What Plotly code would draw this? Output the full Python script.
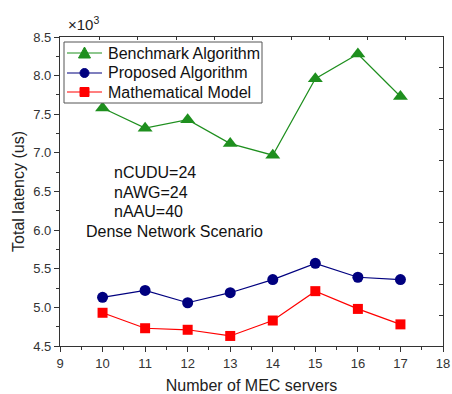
import plotly.graph_objects as go

servers = [10, 11, 12, 13, 14, 15, 16, 17]
benchmark = [7.58, 7.32, 7.43, 7.12, 6.97, 7.96, 8.28, 7.73]
proposed = [5.13, 5.22, 5.06, 5.19, 5.36, 5.57, 5.39, 5.36]
mathmodel = [4.93, 4.73, 4.71, 4.63, 4.83, 5.21, 4.98, 4.78]
x_ticks = [9, 10, 11, 12, 13, 14, 15, 16, 17, 18]
y_ticks = [4.5, 5.0, 5.5, 6.0, 6.5, 7.0, 7.5, 8.0, 8.5]
top_ticks = [9.93, 10.83, 11.73, 12.63, 13.53, 14.43, 15.33, 16.23, 17.13]
right_ticks = [4.9, 5.3, 5.7, 6.1, 6.5, 6.9, 7.3, 7.7, 8.1]
series_names = ["Benchmark Algorithm", "Proposed Algorithm", "Mathematical Model"]

GREEN = "#1e8f1e"
BLUE = "#00007f"
RED = "#ff0000"
FONT = "Liberation Sans, Arial, sans-serif"
AX = "#333333"

fig = go.Figure()
fig.add_trace(go.Scatter(x=servers, y=benchmark, name=series_names[0],
                         mode="lines+markers", line=dict(color=GREEN, width=1.2),
                         marker=dict(symbol="triangle-up", size=13, color=GREEN),
                         showlegend=False))
fig.add_trace(go.Scatter(x=servers, y=proposed, name=series_names[1],
                         mode="lines+markers", line=dict(color=BLUE, width=1.2),
                         marker=dict(symbol="circle", size=11, color=BLUE),
                         showlegend=False))
fig.add_trace(go.Scatter(x=servers, y=mathmodel, name=series_names[2],
                         mode="lines+markers", line=dict(color=RED, width=1.2),
                         marker=dict(symbol="square", size=10, color=RED),
                         showlegend=False))
# invisible trace so the mirrored (top/right) axes get drawn
fig.add_trace(go.Scatter(x=[servers[0]], y=[proposed[0]], xaxis="x2", yaxis="y2",
                         mode="markers", marker=dict(opacity=0), showlegend=False,
                         hoverinfo="skip"))

common = dict(showgrid=False, zeroline=False, showline=True, linecolor=AX,
              linewidth=1.2, tickcolor=AX, tickwidth=1, automargin=False,
              tickfont=dict(family=FONT, size=13, color="#333"))

fig.update_layout(
    width=452, height=394,
    margin=dict(l=60, r=9, t=37, b=48),
    paper_bgcolor="white", plot_bgcolor="white",
    font=dict(family=FONT, color="#222"),
    showlegend=False,
    xaxis=dict(range=[9, 18], tickvals=x_ticks, ticks="outside", ticklen=5,
               minor=dict(dtick=0.5, tick0=9, ticks="outside", ticklen=3, tickcolor=AX),
               title=dict(text="Number of MEC servers",
                          font=dict(family=FONT, size=16, color="#222"), standoff=10),
               **common),
    yaxis=dict(range=[4.5, 8.5], tickvals=y_ticks, ticktext=[f"{v:.1f}" for v in y_ticks],
               ticks="outside", ticklen=5,
               minor=dict(dtick=0.25, tick0=4.5, ticks="outside", ticklen=3, tickcolor=AX),
               title=dict(text="Total latency (us)",
                          font=dict(family=FONT, size=16, color="#222"), standoff=4),
               **common),
    xaxis2=dict(range=[9, 18], overlaying="x", side="top", tickvals=top_ticks,
                ticks="inside", ticklen=3, showticklabels=False, **common),
    yaxis2=dict(range=[4.5, 8.5], overlaying="y", side="right", tickvals=right_ticks,
                ticks="inside", ticklen=4, showticklabels=False, **common),
)

# ---- legend box (drawn by hand to match the compact Origin-style legend) ----
PL, PW, PT, PH = 60, 383, 37, 309  # plot area in px
def px(xp):
    return (xp - PL) / PW
def py(yp):
    return (PT + PH - yp) / PH

fig.add_shape(type="rect", xref="paper", yref="paper", x0=px(64), x1=px(262),
              y0=py(103), y1=py(42), line=dict(color="#555", width=1),
              fillcolor="white", layer="above")
rows = [53, 73, 92]
colors = [GREEN, BLUE, RED]
for name, col, r, kind in zip(series_names, colors, rows, ["tri", "circ", "sq"]):
    fig.add_shape(type="line", xref="paper", yref="paper", x0=px(67), x1=px(102),
                  y0=py(r), y1=py(r), line=dict(color=col, width=1.2), layer="above")
    common_s = dict(xref="paper", yref="paper", xsizemode="pixel", ysizemode="pixel",
                    xanchor=px(84.5), yanchor=py(r), fillcolor=col,
                    line=dict(color=col, width=1), layer="above")
    if kind == "tri":
        fig.add_shape(type="path", path="M -6 -5 L 6 -5 L 0 6 Z", **common_s)
    elif kind == "circ":
        fig.add_shape(type="circle", x0=-4.5, x1=4.5, y0=-4.5, y1=4.5, **common_s)
    else:
        fig.add_shape(type="rect", x0=-4.5, x1=4.5, y0=-4.5, y1=4.5, **common_s)
    fig.add_annotation(text=name, xref="paper", yref="paper", x=px(106), y=py(r),
                       xanchor="left", yanchor="middle", showarrow=False,
                       font=dict(family=FONT, size=16, color="#111"))

fig.add_annotation(text="×10<sup>3</sup>", xref="paper", yref="paper", x=px(66), y=1.0,
                   xanchor="left", yanchor="bottom", showarrow=False,
                   font=dict(family=FONT, size=15, color="#222"), yshift=2)

notes = ["nCUDU=24", "nAWG=24", "nAAU=40"]
note_y = [6.74, 6.49, 6.245]
for t, yy in zip(notes, note_y):
    fig.add_annotation(text=t, x=10.23, y=yy, xanchor="left", yanchor="middle",
                       showarrow=False, font=dict(family=FONT, size=16, color="#111"))
fig.add_annotation(text="Dense Network Scenario", x=9.575, y=5.98, xanchor="left",
                   yanchor="middle", showarrow=False,
                   font=dict(family=FONT, size=16, color="#111"))

fig.write_html("out.html")
